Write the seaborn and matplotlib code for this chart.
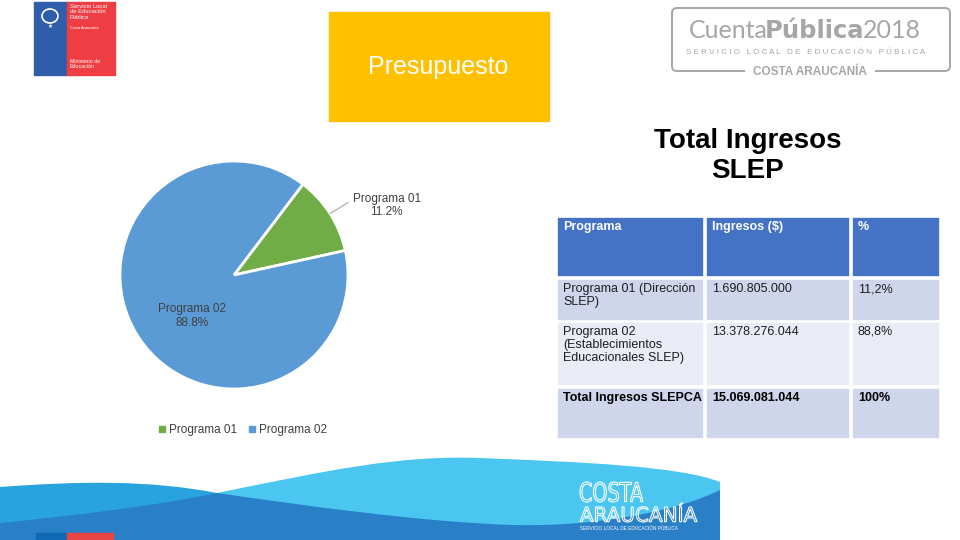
import numpy as np
import matplotlib
matplotlib.use("Agg")
import matplotlib.pyplot as plt
import matplotlib.patches as mpatches
from matplotlib.path import Path
from matplotlib.textpath import TextPath
from matplotlib.font_manager import FontProperties
from matplotlib.transforms import Affine2D
from matplotlib.lines import Line2D
import seaborn as sns

# data
programas = ["Programa 01", "Programa 02"]
ingresos = [1690805000, 13378276044]
pie_colors = ["#70AD47", "#5B9BD5"]

tabla_header = ["Programa", "Ingresos ($)", "%"]
tabla_programa = ["Programa 01 (Dirección\nSLEP)",
                  "Programa 02\n(Establecimientos\nEducacionales SLEP)",
                  "Total Ingresos SLEPCA"]
tabla_ingresos = ["1.690.805.000", "13.378.276.044", "15.069.081.044"]
tabla_pct = ["11,2%", "88,8%", "100%"]

sns.set_theme(style="white")
plt.rcParams['font.family'] = ['Liberation Sans', 'DejaVu Sans']

fig = plt.figure(figsize=(9.6, 5.4), dpi=100)
bg = fig.add_axes([0, 0, 1, 1])
bg.set_xlim(0, 960)
bg.set_ylim(540, 0)
bg.axis('off')

# ---- top-left logo
bg.add_patch(mpatches.Rectangle((34, 2), 33, 73, color='#2E5EAA'))
bg.add_patch(mpatches.Rectangle((67, 2), 48, 73, color='#EE3E43'))
bg.add_patch(mpatches.Ellipse((50, 16), 16, 14, facecolor='none', edgecolor='white', lw=1.2))
bg.text(50, 26, "★", color='white', fontsize=4, ha='center', va='center', family='DejaVu Sans')
bg.text(70, 4, "Servicio Local\nde Educación\nPública", color='white', fontsize=4.2,
        va='top', ha='left', linespacing=1.1)
bg.text(70, 28, "Costa Araucanía", color='white', fontsize=2.8, va='center', ha='left')
bg.text(70, 59, "Ministerio de\nEducación", color='white', fontsize=3.8,
        va='top', ha='left', linespacing=1.1)

# ---- yellow box
bg.add_patch(mpatches.Rectangle((329, 12), 220, 109, color='#FFC000'))
bg.text(438, 67, "Presupuesto", color='white', fontsize=18, ha='center', va='center')

# ---- top-right logo
gray = '#A6A6A6'
bg.add_patch(mpatches.FancyBboxPatch((672, 8), 278, 63,
             boxstyle='round,pad=0,rounding_size=5', fill=False, edgecolor=gray, lw=1.4))
t1 = bg.text(689, 31, "Cuenta", color=gray, fontsize=18, ha='left', va='center', family='Lato')
t2 = bg.annotate("Pública", xy=(1, 0.5), xycoords=t1, xytext=(-2.5, 0), textcoords='offset points',
                 color=gray, fontsize=17.5, fontweight='bold', ha='left', va='center',
                 family='DejaVu Sans')
bg.annotate("2018", xy=(1, 0.5), xycoords=t2, xytext=(-1, 0), textcoords='offset points',
            color=gray, fontsize=18, ha='left', va='center', family='Lato')
bg.text(806, 53, "S E R V I C I O   L O C A L   D E   E D U C A C I Ó N   P Ú B L I C A", color=gray,
        fontsize=5.8, ha='center', va='center')
bg.text(810, 72, "COSTA ARAUCANÍA", color=gray, fontsize=8.5, fontweight='bold',
        ha='center', va='center', bbox=dict(facecolor='white', edgecolor='none', pad=6))

# ---- title
bg.text(748, 156, "Total Ingresos\nSLEP", ha='center', va='center', fontsize=20,
        fontweight='bold', color='black', linespacing=1.15)

# ---- table
col_x = [557, 706, 852]
col_w = [147, 144, 88]
row_y = [217, 279, 322, 388]
row_h = [60, 42, 64, 51]
row_colors = ['#4472C4', '#CFD5EA', '#E9EBF5', '#CFD5EA']
rows = [tabla_header] + [list(r) for r in zip(tabla_programa, tabla_ingresos, tabla_pct)]
for i, row in enumerate(rows):
    for j, txt in enumerate(row):
        bg.add_patch(mpatches.Rectangle((col_x[j], row_y[i]), col_w[j], row_h[i],
                                        facecolor=row_colors[i], edgecolor='white', lw=1.2))
        if i == 0:
            color, weight = 'white', 'bold'
        elif i == len(rows) - 1:
            color, weight = 'black', 'bold'
        else:
            color, weight = '#1F1F1F', 'normal'
        bg.text(col_x[j] + 6, row_y[i] + 4, txt, color=color, fontweight=weight,
                fontsize=9, ha='left', va='top', linespacing=1.12)

# ---- bottom waves
def wave(verts, codes, color):
    bg.add_patch(mpatches.PathPatch(Path(verts, codes), facecolor=color, edgecolor='none'))

M, C, L, Z = Path.MOVETO, Path.CURVE4, Path.LINETO, Path.CLOSEPOLY
wave([(0, 487), (80, 481), (150, 480), (217, 493), (320, 515), (320, 540), (0, 540), (0, 487)],
     [M, C, C, C, L, L, L, Z], '#29A3DD')
wave([(217, 493), (330, 470), (400, 455), (480, 458), (580, 462), (680, 466), (720, 482),
      (720, 540), (217, 540), (217, 493)],
     [M, C, C, C, C, C, C, L, L, Z], '#4AC6F0')
wave([(0, 523), (80, 515), (160, 505), (217, 493), (300, 505), (420, 522), (513, 525),
      (600, 527), (680, 510), (720, 490), (720, 540), (0, 540), (0, 523)],
     [M, C, C, C, C, C, C, C, C, C, L, L, Z], '#2A80C6')
bg.add_patch(mpatches.Rectangle((36, 533), 31, 7, color='#0F69B4'))
bg.add_patch(mpatches.Rectangle((67, 533), 46, 7, color='#E84545'))


def outlined(s, x0, y0, x1, y1):
    # white outline text squeezed into a box (pixel coords, y downwards)
    tp = TextPath((0, 0), s, size=10, prop=FontProperties(family='DejaVu Sans'))
    ext = tp.get_extents()
    sx = (x1 - x0) / ext.width
    sy = (y1 - y0) / ext.height
    tr = Affine2D().translate(-ext.x0, -ext.y1).scale(sx, -sy).translate(x0, y0)
    bg.add_patch(mpatches.PathPatch(tr.transform_path(tp), facecolor='none',
                                    edgecolor='white', lw=0.8))


outlined("COSTA", 580, 482, 643, 502)
outlined("ARAUCANÍA", 580, 503, 697, 522)
bg.text(580, 528, "SERVICIO LOCAL DE EDUCACIÓN PÚBLICA", color='white', fontsize=3.4,
        ha='left', va='center')

# ---- pie
ax = fig.add_axes([120 / 960, (540 - 389) / 540, 228 / 960, 228 / 540])
wedges, _ = ax.pie(ingresos, colors=pie_colors, startangle=12.4, counterclock=True,
                   wedgeprops=dict(edgecolor='white', linewidth=2))
ax.set_xlim(-1, 1)
ax.set_ylim(-1, 1)
ax.axis('off')

pct = [v / sum(ingresos) * 100 for v in ingresos]
w = wedges[0]
mid = np.deg2rad((w.theta1 + w.theta2) / 2)
ax.annotate(f"{programas[0]}\n{pct[0]:.1f}%", xy=(np.cos(mid), np.sin(mid)),
            xytext=(1.34, 0.61), ha='center', va='center', fontsize=8.5, color='#404040',
            arrowprops=dict(arrowstyle='-', color=gray, lw=0.8, relpos=(0, 0.72),
                            shrinkA=1, shrinkB=0))
ax.text(-0.37, -0.36, f"{programas[1]}\n{pct[1]:.1f}%", ha='center', va='center',
        fontsize=8.5, color='#404040')

handles = [Line2D([], [], marker='s', color=c, linestyle='', markersize=4) for c in pie_colors]
fig.legend(handles, programas, loc='center left', bbox_to_anchor=(148 / 960, 1 - 430 / 540),
           ncol=2, frameon=False, fontsize=8.5, handlelength=0.6, handletextpad=0.3,
           columnspacing=0.9, labelcolor='#404040')

fig.savefig("out.png", dpi=100)
